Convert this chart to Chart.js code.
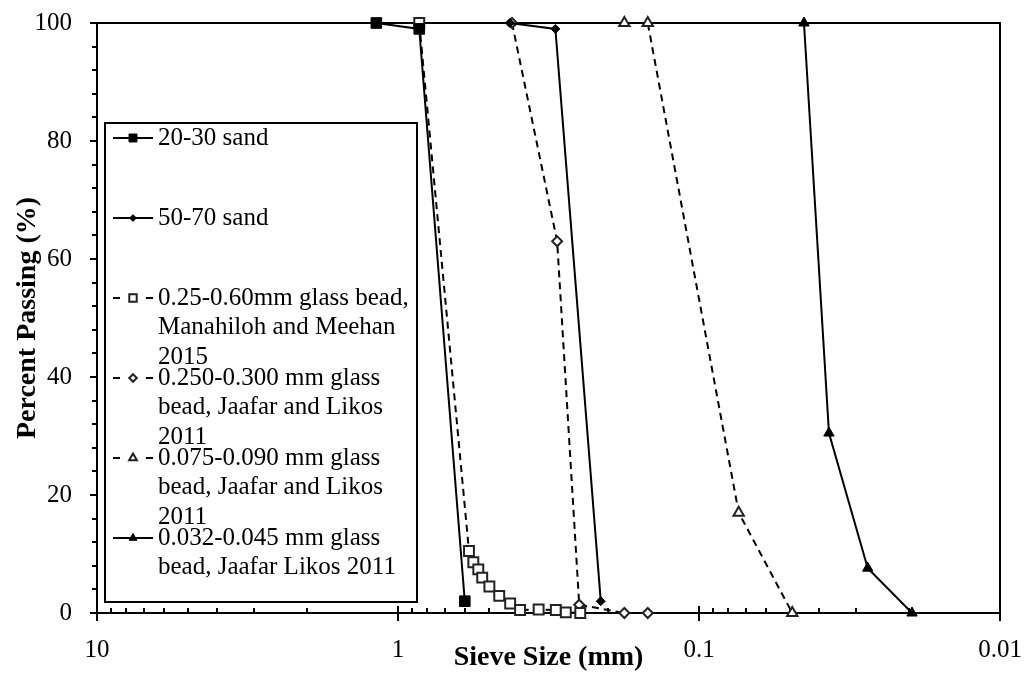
<!DOCTYPE html>
<html>
<head>
<meta charset="utf-8">
<script src="https://cdn.jsdelivr.net/npm/chart.js@4.4.1/dist/chart.umd.min.js"></script>
<style>
  html, body { margin: 0; padding: 0; background: #fff; }
  #wrap { width: 1026px; height: 677px; }
</style>
</head>
<body>
<div id="wrap"><canvas id="sieveChart" width="1026" height="677"></canvas></div>
<script>
// sieve size (mm) and percent passing
const sand2030Size = [1.18, 0.85, 0.60];
const sand2030Pass = [100, 99, 2];

const sand5070Size = [0.425, 0.30, 0.212];
const sand5070Pass = [100, 99, 2];

const glass2560Size = [0.85, 0.581, 0.562, 0.541, 0.525, 0.497, 0.461, 0.424, 0.393, 0.341, 0.299, 0.277, 0.248];
const glass2560Pass = [100, 10.5, 8.6, 7.4, 6.0, 4.5, 2.9, 1.6, 0.5, 0.6, 0.5, 0.1, 0];

const glass250300Size = [0.418, 0.296, 0.25, 0.177, 0.148];
const glass250300Pass = [100, 63, 1.4, 0, 0];

const glass075090Size = [0.177, 0.148, 0.0738, 0.049];
const glass075090Pass = [100, 100, 17, 0];

const glass032045Size = [0.0448, 0.037, 0.0275, 0.0196];
const glass032045Pass = [100, 30.5, 7.6, 0];

const xTickValues = [10, 1, 0.1, 0.01];
const xTickLabels = ['10', '1', '0.1', '0.01'];

const seriesNames = [
    '20-30 sand',
    '50-70 sand',
    '0.25-0.60mm glass bead, Manahiloh and Meehan 2015',
    '0.250-0.300 mm glass bead, Jaafar and Likos 2011',
    '0.075-0.090 mm glass bead, Jaafar and Likos 2011',
    '0.032-0.045 mm glass bead, Jaafar Likos 2011'
];
// legend text wraps like the original
const legendLines = [
    ['20-30 sand'],
    ['50-70 sand'],
    ['0.25-0.60mm glass bead,', 'Manahiloh and Meehan', '2015'],
    ['0.250-0.300 mm glass', 'bead, Jaafar and Likos', '2011'],
    ['0.075-0.090 mm glass', 'bead, Jaafar and Likos', '2011'],
    ['0.032-0.045 mm glass', 'bead, Jaafar Likos 2011']
];

const SERIF = "'Liberation Serif', 'Times New Roman', serif";
const DASH = [7, 5];

function pts(sizes, pass) {
    return sizes.map((s, i) => ({ x: s, y: pass[i] }));
}

function series(i, sizes, pass, style) {
    return Object.assign({
        label: seriesNames[i],
        data: pts(sizes, pass),
        showLine: true,
        fill: false,
        tension: 0,
        clip: false,
        borderColor: '#000',
        borderWidth: 2,
        borderDash: [],
        pointBorderColor: '#000',
        pointBackgroundColor: '#000',
        pointBorderWidth: 1,
        pointHoverRadius: 0
    }, style);
}

const datasets = [
    series(0, sand2030Size, sand2030Pass, { pointStyle: 'rect', pointRadius: 7.5 }),
    series(1, sand5070Size, sand5070Pass, { pointStyle: 'rectRot', pointRadius: 4.5 }),
    series(2, glass2560Size, glass2560Pass, {
        borderDash: DASH, pointStyle: 'rect', pointRadius: 7,
        pointBackgroundColor: '#fff', pointBorderColor: '#222', pointBorderWidth: 2
    }),
    series(3, glass250300Size, glass250300Pass, {
        borderDash: DASH, pointStyle: 'rectRot', pointRadius: 5,
        pointBackgroundColor: '#fff', pointBorderColor: '#222', pointBorderWidth: 2
    }),
    series(4, glass075090Size, glass075090Pass, {
        borderDash: DASH, pointStyle: 'triangle', pointRadius: 6,
        pointBackgroundColor: '#fff', pointBorderColor: '#222', pointBorderWidth: 2
    }),
    series(5, glass032045Size, glass032045Pass, { pointStyle: 'triangle', pointRadius: 6 })
];

// frame around the plot + excel-like tick marks
const axisFrame = {
    id: 'axisFrame',
    beforeDatasetsDraw(chart) {
        const { ctx, chartArea: a, scales: { x, y } } = chart;
        ctx.save();
        ctx.strokeStyle = '#000';
        ctx.lineWidth = 2;
        ctx.strokeRect(a.left, a.top, a.right - a.left, a.bottom - a.top);

        ctx.beginPath();
        for (let k = -2; k <= 0; k++) {
            for (let m = 2; m <= 9; m++) {
                const px = Math.round(x.getPixelForValue(m * Math.pow(10, k)));
                ctx.moveTo(px, a.bottom);
                ctx.lineTo(px, a.bottom - 5);
            }
        }
        xTickValues.forEach(v => {
            const px = Math.round(x.getPixelForValue(v));
            ctx.moveTo(px, a.bottom - 7);
            ctx.lineTo(px, a.bottom + 8);
        });
        for (let v = 0; v <= 100; v += 4) {
            const py = Math.round(y.getPixelForValue(v));
            ctx.moveTo(a.left, py);
            ctx.lineTo(a.left - (v % 20 === 0 ? 7 : 5), py);
        }
        ctx.stroke();
        ctx.restore();
    }
};

const boxLegend = {
    id: 'boxLegend',
    afterDatasetsDraw(chart) {
        const { ctx } = chart;
        const box = { left: 105, top: 123, right: 417, bottom: 602 };
        ctx.save();
        ctx.fillStyle = '#fff';
        ctx.fillRect(box.left, box.top, box.right - box.left, box.bottom - box.top);
        ctx.strokeStyle = '#000';
        ctx.lineWidth = 2;
        ctx.strokeRect(box.left, box.top, box.right - box.left, box.bottom - box.top);

        ctx.font = '25px ' + SERIF;
        ctx.textBaseline = 'middle';
        ctx.textAlign = 'left';

        chart.data.datasets.forEach((ds, i) => {
            const cy = 138 + i * 80;
            const cx = 133;
            ctx.strokeStyle = '#000';
            ctx.lineWidth = 2;
            ctx.setLineDash([]);
            ctx.beginPath();
            if (ds.borderDash.length) {
                ctx.moveTo(113, cy); ctx.lineTo(120, cy);
                ctx.moveTo(146, cy); ctx.lineTo(153, cy);
            } else {
                ctx.moveTo(113, cy); ctx.lineTo(153, cy);
            }
            ctx.stroke();

            ctx.fillStyle = ds.pointBackgroundColor;
            ctx.strokeStyle = ds.pointBorderColor;
            ctx.lineWidth = ds.pointBorderWidth;
            Chart.helpers.drawPoint(ctx, {
                pointStyle: ds.pointStyle,
                radius: ds.pointRadius * 0.75,
                borderWidth: ds.pointBorderWidth,
                rotation: 0
            }, cx, cy);

            ctx.fillStyle = '#000';
            legendLines[i].forEach((t, j) => ctx.fillText(t, 158, cy + j * 29.5));
        });
        ctx.restore();
    }
};

Chart.defaults.color = '#000';

new Chart(document.getElementById('sieveChart'), {
    type: 'scatter',
    data: { datasets },
    options: {
        responsive: false,
        devicePixelRatio: 1,
        animation: false,
        events: [],
        layout: { padding: { top: 23, right: 26, left: 0, bottom: 0 } },
        plugins: { legend: { display: false }, tooltip: { enabled: false } },
        scales: {
            x: {
                type: 'logarithmic',
                reverse: true,
                min: 0.01,
                max: 10,
                afterBuildTicks: (scale) => {
                    scale.ticks = xTickValues.map(v => ({ value: v }));
                },
                afterFit: (scale) => {
                    scale.height = 64;
                    scale.paddingLeft = 0;
                    scale.paddingRight = 0;
                },
                grid: { display: false, drawTicks: false },
                border: { display: false },
                ticks: {
                    autoSkip: false,
                    maxRotation: 0,
                    padding: 22,
                    font: { family: SERIF, size: 25 },
                    callback: (v) => {
                        const i = xTickValues.indexOf(v);
                        return i >= 0 ? xTickLabels[i] : '';
                    }
                },
                title: {
                    display: true,
                    text: 'Sieve Size (mm)',
                    padding: { top: 0, bottom: 2 },
                    font: { family: SERIF, size: 28, weight: 'bold' }
                }
            },
            y: {
                min: 0,
                max: 100,
                afterFit: (scale) => {
                    scale.width = 97;
                    scale.paddingTop = 0;
                    scale.paddingBottom = 0;
                },
                grid: { display: false, drawTicks: false },
                border: { display: false },
                ticks: {
                    stepSize: 20,
                    padding: 25,
                    font: { family: SERIF, size: 25 }
                },
                title: {
                    display: true,
                    text: 'Percent Passing (%)',
                    padding: { top: 11, bottom: 0 },
                    font: { family: SERIF, size: 28, weight: 'bold' }
                }
            }
        }
    },
    plugins: [axisFrame, boxLegend]
});
</script>
</body>
</html>
